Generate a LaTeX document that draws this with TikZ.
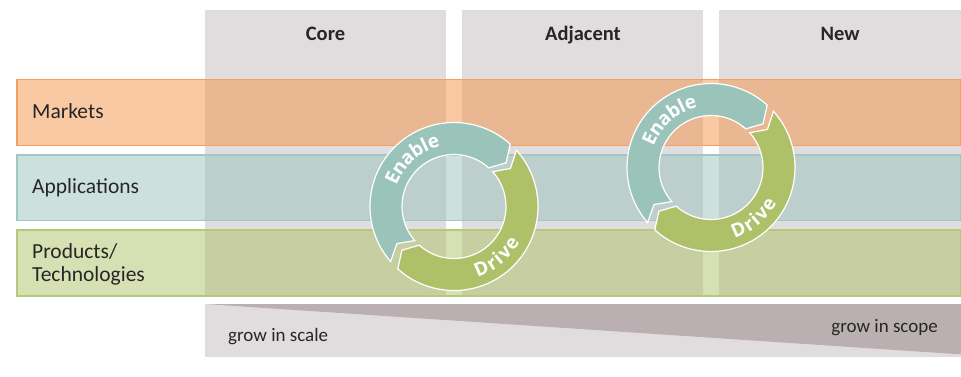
\documentclass[tikz,border=0pt]{standalone}
\usepackage{fontspec}
\setmainfont{Carlito}
\newfontfamily\ringfont{Open Sans}
\definecolor{colgrey}{HTML}{E1DDDF}
\definecolor{mkt}{HTML}{F19347}
\definecolor{mktline}{HTML}{F2A060}
\definecolor{app}{HTML}{99C3BB}
\definecolor{appline}{HTML}{9DC9C0}
\definecolor{prd}{HTML}{AFC167}
\definecolor{prdline}{HTML}{B4C97E}
\definecolor{enab}{HTML}{9AC4BA}
\definecolor{driv}{HTML}{AEC169}
\definecolor{barlight}{HTML}{E1DDDF}
\definecolor{bardark}{HTML}{BBB0B1}
\definecolor{txt}{HTML}{262626}
\tikzset{
  colbox/.style={rectangle, fill=colgrey, inner sep=0pt, anchor=north west, minimum width=241pt, minimum height=286pt},
  head/.style={font=\fontsize{20.5}{24}\selectfont\bfseries, text=txt, anchor=base, inner sep=0pt},
  rowbox/.style={rectangle, inner sep=0pt, line width=1.5pt, fill opacity=0.5, draw opacity=1, anchor=north west, minimum width=944pt},
  rowlab/.style={font=\fontsize{21.5}{23.4}\selectfont, text=txt, anchor=base west, inner sep=0pt},
  barlab/.style={font=\fontsize{19}{22}\selectfont, text=txt, inner sep=0pt},
  ringseg/.style={draw=white, line width=1.2pt, line join=miter},
  ringtxt/.style={font=\ringfont\bfseries\fontsize{19}{19}\selectfont, text=white, anchor=base, inner sep=0pt},
  cyc/.pic={
    \path[ringseg, fill=enab] (221:84) arc[start angle=221,end angle=48,radius=84] -- (40:68) -- (48:52) arc[start angle=48,end angle=221,radius=52] -- (213:68) -- cycle;
    \path[ringseg, fill=driv] (42:84) arc[start angle=42,end angle=-132,radius=84] -- (-140:68) -- (-132:52) arc[start angle=-132,end angle=42,radius=52] -- (34:68) -- cycle;
    \foreach \ch/\ang [count=\i] in {E/154.9, n/144.5, a/134.0, b/123.7, l/115.6, e/107.9}
      \node[ringtxt, rotate=\ang-90] (en\i) at (\ang:61.2) {\ch};
    \foreach \ch/\ang [count=\i] in {D/-66.3, r/-56.4, i/-49.9, v/-42.4, e/-32.7}
      \node[ringtxt, rotate=\ang+90] (dr\i) at (\ang:74.8) {\ch};
  }
}
\begin{document}
\begin{tikzpicture}[x=1pt,y=1pt]
\useasboundingbox (0,0) rectangle (961,-376);
% columns
\node[colbox] (core) at (205,-10) {};
\node[colbox] (adj) at (462,-10) {};
\node[colbox, minimum width=242pt] (new) at (719,-10) {};
\node[head] (coreh) at (325.5,-40) {Core};
\node[head] (adjh) at (583,-40) {Adjacent};
\node[head] (newh) at (840,-40) {New};
% rows
\node[rowbox, draw=mktline, fill=mkt, minimum height=66pt] (markets) at (16,-78.5) {};
\node[rowbox, draw=appline, fill=app, minimum height=65.8pt] (apps) at (16,-154.1) {};
\node[rowbox, draw=prdline, fill=prd, minimum height=66pt] (prods) at (16,-229.1) {};
\node[rowlab] (mlab) at (32,-118.3) {Markets};
\node[rowlab] (alab) at (32,-193.3) {Applications};
\node[rowlab] (plab1) at (32,-258.3) {Products/};
\node[rowlab] (plab2) at (32,-281.7) {Technologies};
% cycles
\pic (c1) at (454,-206.5) {cyc};
\pic (c2) at (711,-167.5) {cyc};
% bottom bar
\node[rectangle, fill=barlight, inner sep=0pt, anchor=north west, minimum width=756pt, minimum height=53pt] (bar) at (205,-304) {};
\fill[bardark] (bar.north west) -- (bar.north east) -- ([yshift=3pt]bar.south east) -- cycle;
\node[barlab, anchor=base west] (gscale) at (228,-341) {grow in scale};
\node[barlab, anchor=base east] (gscope) at (938,-332) {grow in scope};
\end{tikzpicture}
\end{document}
